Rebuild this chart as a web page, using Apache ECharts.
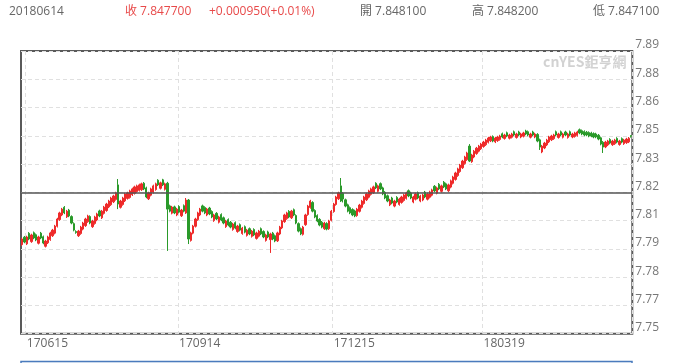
<!DOCTYPE html>
<html><head><meta charset="utf-8">
<script src="https://cdn.jsdelivr.net/npm/echarts@6/dist/echarts.min.js"></script>
<style>html,body{margin:0;padding:0;background:#fff}#c{width:680px;height:363px}</style>
</head><body><div id="c"></div>
<script>
const dates = ['170613','170614','170615','170616','170619','170620','170621','170622','170623','170626','170627','170628','170629','170630',
'170703','170704','170705','170706','170707','170710','170711','170712','170713','170714','170717','170718','170719','170720','170721','170724','170725','170726','170727','170728','170731',
'170801','170802','170803','170804','170807','170808','170809','170810','170811','170814','170815','170816','170817','170818','170821','170822','170823','170824','170825','170828','170829','170830','170831',
'170901','170904','170905','170906','170907','170908','170911','170912','170913','170914','170915','170918','170919','170920','170921','170922','170925','170926','170927','170928','170929',
'171002','171003','171004','171005','171006','171009','171010','171011','171012','171013','171016','171017','171018','171019','171020','171023','171024','171025','171026','171027','171030','171031',
'171101','171102','171103','171106','171107','171108','171109','171110','171113','171114','171115','171116','171117','171120','171121','171122','171123','171124','171127','171128','171129','171130',
'171201','171204','171205','171206','171207','171208','171211','171212','171213','171214','171215','171218','171219','171220','171221','171222','171226','171227','171228','171229',
'180102','180103','180104','180105','180108','180109','180110','180111','180112','180115','180116','180117','180118','180119','180122','180123','180124','180125','180126','180129','180130','180131',
'180201','180202','180205','180206','180207','180208','180209','180212','180213','180214','180215','180216','180219','180220','180221','180222','180223','180226','180227','180228',
'180301','180302','180305','180306','180307','180308','180309','180312','180313','180314','180315','180316','180319','180320','180321','180322','180323','180326','180327','180328','180329','180330',
'180402','180403','180404','180405','180406','180409','180410','180411','180412','180413','180416','180417','180418','180419','180420','180423','180424','180425','180426','180427','180430',
'180501','180502','180503','180504','180507','180508','180509','180510','180511','180514','180515','180516','180517','180518','180521','180522','180523','180524','180525','180528','180529','180530','180531',
'180601','180604','180605','180606','180607','180608','180611','180612','180613','180614'];

const openV = [
7.7941,7.7978,7.7945,7.7997,7.7956,7.8000,7.7990,7.7948,7.7998,7.7980,
7.7933,7.7950,7.7966,7.7985,7.7998,7.8032,7.8065,7.8088,7.8126,7.8079,
7.8112,7.8080,7.8045,7.8006,7.7985,7.7996,7.8018,7.8035,7.8055,7.8080,
7.8030,7.8046,7.8063,7.8108,7.8074,7.8096,7.8110,7.8128,7.8139,7.8153,
7.8165,7.8237,7.8126,7.8140,7.8158,7.8170,7.8175,7.8188,7.8195,7.8204,
7.8210,7.8213,7.8245,7.8222,7.8168,7.8186,7.8200,7.8214,7.8260,7.8220,
7.8262,7.8215,7.8245,7.8133,7.8097,7.8128,7.8088,7.8130,7.8084,7.8134,
7.8098,7.8162,7.7962,7.7998,7.8032,7.8065,7.8088,7.8133,7.8125,7.8088,
7.8122,7.8105,7.8060,7.8096,7.8052,7.8090,7.8074,7.8030,7.8065,7.8052,
7.8016,7.8050,7.8006,7.8040,7.7996,7.8030,7.7987,7.8020,7.7982,7.8016,
7.7972,7.7983,7.8020,7.8006,7.7962,7.8004,7.7966,7.7998,7.7985,7.7960,
7.7994,7.8024,7.8055,7.8070,7.8106,7.8074,7.8114,7.8085,7.8045,7.8020,
7.7992,7.8040,7.8090,7.8125,7.8150,7.8110,7.8085,7.8066,7.8052,7.8020,
7.8046,7.8020,7.8062,7.8105,7.8140,7.8168,7.8232,7.8195,7.8163,7.8138,
7.8124,7.8115,7.8108,7.8085,7.8106,7.8126,7.8145,7.8163,7.8176,7.8190,
7.8198,7.8245,7.8205,7.8243,7.8222,7.8200,7.8183,7.8138,7.8172,7.8132,
7.8175,7.8140,7.8150,7.8160,7.8170,7.8208,7.8197,7.8152,7.8166,7.8198,
7.8157,7.8162,7.8201,7.8166,7.8176,7.8186,7.8230,7.8196,7.8240,7.8205,
7.8250,7.8242,7.8208,7.8226,7.8245,7.8264,7.8283,7.8303,7.8322,7.8343,
7.8362,7.8429,7.8352,7.8375,7.8392,7.8404,7.8416,7.8427,7.8436,7.8448,
7.8455,7.8476,7.8450,7.8456,7.8462,7.8490,7.8467,7.8495,7.8468,7.8473,
7.8500,7.8472,7.8499,7.8474,7.8478,7.8504,7.8500,7.8473,7.8499,7.8474,
7.8487,7.8460,7.8400,7.8420,7.8435,7.8450,7.8460,7.8466,7.8500,7.8472,
7.8500,7.8473,7.8499,7.8472,7.8500,7.8474,7.8477,7.8482,7.8510,7.8505,
7.8501,7.8498,7.8496,7.8494,7.8491,7.8489,7.8483,7.8470,7.8448,7.8425,
7.8435,7.8462,7.8436,7.8441,7.8467,7.8437,7.8466,7.8441,7.8446,7.8450,
7.8481];

const closeV = [
7.7969,7.7954,7.7979,7.7969,7.7989,7.7974,7.7964,7.7979,7.7974,7.7949,
7.7959,7.7979,7.7999,7.8013,7.8033,7.8068,7.8098,7.8117,7.8098,7.8107,
7.8083,7.8048,7.8013,7.8001,7.8008,7.8028,7.8048,7.8068,7.8083,7.8048,
7.8058,7.8078,7.8093,7.8083,7.8107,7.8127,7.8142,7.8157,7.8172,7.8182,
7.8197,7.8142,7.8157,7.8172,7.8192,7.8197,7.8207,7.8217,7.8227,7.8232,
7.8237,7.8242,7.8217,7.8177,7.8197,7.8217,7.8232,7.8242,7.8237,7.8247,
7.8237,7.8242,7.8117,7.8107,7.8127,7.8098,7.8117,7.8102,7.8112,7.8107,
7.8162,7.7969,7.7999,7.8033,7.8068,7.8098,7.8117,7.8107,7.8098,7.8117,
7.8093,7.8078,7.8088,7.8068,7.8078,7.8063,7.8048,7.8058,7.8038,7.8028,
7.8043,7.8023,7.8033,7.8013,7.8023,7.8003,7.8013,7.7994,7.8008,7.7989,
7.7999,7.8008,7.7994,7.7979,7.7989,7.7979,7.7994,7.7969,7.7959,7.7999,
7.8028,7.8058,7.8088,7.8098,7.8078,7.8107,7.8088,7.8048,7.8008,7.7994,
7.8028,7.8088,7.8132,7.8157,7.8107,7.8078,7.8058,7.8038,7.8028,7.8048,
7.8018,7.8058,7.8107,7.8142,7.8177,7.8197,7.8157,7.8167,7.8132,7.8107,
7.8098,7.8088,7.8083,7.8117,7.8137,7.8157,7.8177,7.8192,7.8207,7.8217,
7.8227,7.8222,7.8232,7.8217,7.8192,7.8172,7.8157,7.8162,7.8147,7.8157,
7.8152,7.8167,7.8177,7.8187,7.8197,7.8182,7.8172,7.8177,7.8192,7.8172,
7.8182,7.8187,7.8177,7.8192,7.8202,7.8212,7.8207,7.8222,7.8217,7.8232,
7.8227,7.8217,7.8237,7.8257,7.8276,7.8296,7.8316,7.8335,7.8355,7.8375,
7.8395,7.8355,7.8385,7.8404,7.8419,7.8429,7.8439,7.8449,7.8459,7.8469,
7.8474,7.8454,7.8469,7.8474,7.8479,7.8474,7.8484,7.8479,7.8484,7.8489,
7.8484,7.8489,7.8484,7.8489,7.8494,7.8489,7.8484,7.8489,7.8484,7.8489,
7.8454,7.8424,7.8429,7.8444,7.8459,7.8474,7.8479,7.8484,7.8484,7.8489,
7.8484,7.8489,7.8484,7.8489,7.8484,7.8489,7.8494,7.8499,7.8494,7.8489,
7.8484,7.8484,7.8479,7.8479,7.8474,7.8474,7.8464,7.8439,7.8424,7.8449,
7.8454,7.8444,7.8454,7.8459,7.8449,7.8454,7.8449,7.8459,7.8464,7.8468,
7.8477];

const lowV = [
7.7935,7.7948,7.7939,7.7963,7.7950,7.7968,7.7958,7.7942,7.7968,7.7943,
7.7927,7.7944,7.7960,7.7979,7.7992,7.8026,7.8059,7.8082,7.8092,7.8073,
7.8077,7.8042,7.8007,7.7995,7.7979,7.7990,7.8012,7.8029,7.8049,7.8042,
7.8024,7.8040,7.8057,7.8077,7.8068,7.8090,7.8104,7.8122,7.8133,7.8147,
7.8159,7.8117,7.8120,7.8134,7.8152,7.8164,7.8169,7.8182,7.8189,7.8198,
7.8204,7.8207,7.8211,7.8171,7.8162,7.8180,7.8194,7.8208,7.8231,7.8214,
7.8231,7.8209,7.7910,7.8101,7.8091,7.8092,7.8082,7.8096,7.8078,7.8101,
7.8093,7.7944,7.7956,7.7992,7.8026,7.8059,7.8082,7.8101,7.8092,7.8082,
7.8087,7.8072,7.8054,7.8062,7.8046,7.8057,7.8042,7.8024,7.8032,7.8022,
7.8010,7.8017,7.8000,7.8007,7.7990,7.7997,7.7981,7.7988,7.7976,7.7983,
7.7966,7.7977,7.7988,7.7973,7.7956,7.7973,7.7900,7.7963,7.7953,7.7954,
7.7988,7.8018,7.8049,7.8064,7.8072,7.8068,7.8082,7.8042,7.8002,7.7988,
7.7986,7.8034,7.8084,7.8119,7.8101,7.8072,7.8052,7.8032,7.8022,7.8014,
7.8012,7.8014,7.8056,7.8099,7.8134,7.8162,7.8152,7.8150,7.8126,7.8101,
7.8092,7.8082,7.8077,7.8079,7.8100,7.8120,7.8139,7.8157,7.8170,7.8184,
7.8192,7.8216,7.8199,7.8211,7.8186,7.8166,7.8151,7.8132,7.8141,7.8126,
7.8146,7.8134,7.8144,7.8154,7.8164,7.8176,7.8166,7.8146,7.8160,7.8166,
7.8151,7.8156,7.8171,7.8160,7.8170,7.8180,7.8201,7.8190,7.8211,7.8199,
7.8221,7.8211,7.8202,7.8220,7.8239,7.8258,7.8277,7.8297,7.8316,7.8337,
7.8356,7.8350,7.8346,7.8369,7.8386,7.8398,7.8410,7.8421,7.8430,7.8442,
7.8449,7.8448,7.8444,7.8450,7.8456,7.8468,7.8461,7.8473,7.8462,7.8467,
7.8478,7.8466,7.8478,7.8468,7.8472,7.8483,7.8478,7.8467,7.8478,7.8468,
7.8448,7.8410,7.8394,7.8414,7.8429,7.8444,7.8454,7.8460,7.8478,7.8466,
7.8478,7.8467,7.8478,7.8466,7.8478,7.8468,7.8471,7.8476,7.8488,7.8483,
7.8478,7.8478,7.8473,7.8473,7.8468,7.8468,7.8458,7.8433,7.8395,7.8419,
7.8429,7.8438,7.8430,7.8435,7.8443,7.8431,7.8443,7.8435,7.8440,7.8444,
7.8471];

const highV = [
7.7975,7.7984,7.7985,7.8003,7.7995,7.8006,7.7996,7.7985,7.8004,7.7986,
7.7965,7.7985,7.8005,7.8019,7.8039,7.8074,7.8104,7.8123,7.8132,7.8113,
7.8118,7.8086,7.8051,7.8012,7.8014,7.8034,7.8054,7.8074,7.8089,7.8086,
7.8064,7.8084,7.8099,7.8114,7.8113,7.8133,7.8148,7.8163,7.8178,7.8188,
7.8203,7.8266,7.8163,7.8178,7.8198,7.8203,7.8213,7.8223,7.8233,7.8238,
7.8243,7.8248,7.8251,7.8228,7.8203,7.8223,7.8238,7.8248,7.8265,7.8253,
7.8267,7.8248,7.8252,7.8139,7.8133,7.8134,7.8123,7.8136,7.8118,7.8140,
7.8172,7.8167,7.8005,7.8039,7.8074,7.8104,7.8123,7.8139,7.8131,7.8123,
7.8128,7.8111,7.8094,7.8102,7.8084,7.8096,7.8080,7.8064,7.8071,7.8058,
7.8049,7.8056,7.8039,7.8046,7.8029,7.8036,7.8019,7.8026,7.8014,7.8022,
7.8005,7.8014,7.8026,7.8012,7.7995,7.8010,7.8000,7.8004,7.7991,7.8005,
7.8034,7.8064,7.8094,7.8104,7.8112,7.8113,7.8120,7.8091,7.8051,7.8026,
7.8034,7.8094,7.8138,7.8163,7.8156,7.8116,7.8091,7.8072,7.8058,7.8054,
7.8052,7.8064,7.8113,7.8148,7.8183,7.8203,7.8271,7.8201,7.8169,7.8144,
7.8130,7.8121,7.8114,7.8123,7.8143,7.8163,7.8183,7.8198,7.8213,7.8223,
7.8233,7.8250,7.8238,7.8249,7.8228,7.8206,7.8189,7.8168,7.8178,7.8163,
7.8181,7.8173,7.8183,7.8193,7.8203,7.8214,7.8203,7.8183,7.8198,7.8204,
7.8188,7.8193,7.8207,7.8198,7.8208,7.8218,7.8236,7.8228,7.8246,7.8238,
7.8256,7.8248,7.8243,7.8263,7.8282,7.8302,7.8322,7.8341,7.8361,7.8381,
7.8401,7.8439,7.8391,7.8410,7.8425,7.8435,7.8445,7.8455,7.8465,7.8475,
7.8480,7.8482,7.8475,7.8480,7.8485,7.8496,7.8490,7.8501,7.8490,7.8495,
7.8506,7.8495,7.8505,7.8495,7.8500,7.8510,7.8506,7.8495,7.8505,7.8495,
7.8493,7.8466,7.8435,7.8450,7.8465,7.8480,7.8485,7.8490,7.8506,7.8495,
7.8506,7.8495,7.8505,7.8495,7.8506,7.8495,7.8500,7.8505,7.8516,7.8511,
7.8507,7.8504,7.8502,7.8500,7.8497,7.8495,7.8489,7.8476,7.8454,7.8455,
7.8460,7.8468,7.8460,7.8465,7.8473,7.8460,7.8472,7.8465,7.8470,7.8474,
7.8482];

const xLabels = ['170615','170914','171215','180319'];
const yLabels = ['7.75','7.77','7.78','7.79','7.81','7.82','7.83','7.85','7.86','7.88','7.89'];
const yMin = 7.75, yMax = 7.89;
const refLevel = 7.82;

const headDate = '20180614';
const headClose = '收 7.847700';
const headChange = '+0.000950(+0.01%)';
const headOpen = '開 7.848100';
const headHigh = '高 7.848200';
const headLow = '低 7.847100';

const FONT = "'Open Sans','Noto Sans CJK TC',sans-serif";
const chart = echarts.init(document.getElementById('c'), null, {renderer: 'canvas'});
const showLabel = (i, v) => xLabels.indexOf(v) >= 0;

chart.setOption({
  animation: false,
  backgroundColor: '#fff',
  grid: {left: 21, right: 47.7, top: 51, bottom: 29.3, show: true, borderColor: '#5a5a5a', borderWidth: 2, backgroundColor: 'transparent'},
  xAxis: {
    type: 'category', data: dates, boundaryGap: true,
    axisLine: {show: false}, axisTick: {show: false},
    axisLabel: {interval: showLabel, align: 'left', color: '#666', fontSize: 12, margin: 4, fontFamily: FONT},
    splitLine: {show: true, interval: showLabel, lineStyle: {color: '#e0e0e0', type: [4, 3], width: 1}}
  },
  yAxis: [
    {type: 'value', min: yMin, max: yMax, show: false, scale: true},
    {type: 'category', data: yLabels, boundaryGap: false, position: 'right',
     axisLine: {show: false}, axisTick: {show: false},
     axisLabel: {color: '#777', fontSize: 12, margin: 3, verticalAlign: 'bottom', fontFamily: FONT},
     splitLine: {show: true, lineStyle: {color: '#e0e0e0', type: [4, 3], width: 1}}}
  ],
  series: [{
    type: 'candlestick', yAxisIndex: 0,
    data: dates.map((d, i) => [openV[i], closeV[i], lowV[i], highV[i]]),
    barWidth: '78%',
    itemStyle: {color: '#ee2a2a', color0: '#2a9a2a', borderColor: '#ee2a2a', borderColor0: '#2a9a2a', borderWidth: 1},
    markLine: {silent: true, symbol: ['none', 'none'], label: {show: false},
      lineStyle: {color: '#555', width: 1.5, type: 'solid'},
      data: [{yAxis: refLevel}]}
  }],
  graphic: [
    {type: 'text', x: 9, y: 12, style: {text: headDate, fill: '#666', fontSize: 12, fontFamily: FONT, verticalAlign: 'middle'}},
    {type: 'text', x: 125, y: 12, style: {text: headClose, fill: '#e84a4a', fontSize: 12, fontFamily: FONT, verticalAlign: 'middle'}},
    {type: 'text', x: 209, y: 12, style: {text: headChange, fill: '#e84a4a', fontSize: 12, fontFamily: FONT, verticalAlign: 'middle'}},
    {type: 'text', x: 360, y: 12, style: {text: headOpen, fill: '#666', fontSize: 12, fontFamily: FONT, verticalAlign: 'middle'}},
    {type: 'text', x: 472, y: 12, style: {text: headHigh, fill: '#666', fontSize: 12, fontFamily: FONT, verticalAlign: 'middle'}},
    {type: 'text', x: 593, y: 12, style: {text: headLow, fill: '#666', fontSize: 12, fontFamily: FONT, verticalAlign: 'middle'}},
    {type: 'text', x: 543, y: 62, style: {text: 'cnYES鉅亨網', fill: '#d2d2d2', fontSize: 14, fontWeight: 'bold', fontFamily: "'Noto Sans CJK TC',sans-serif", verticalAlign: 'middle'}},
    {type: 'rect', shape: {x: 21, y: 361.5, width: 611, height: 3}, style: {fill: '#f4f7fb', stroke: '#4a7bbd', lineWidth: 1.5}}
  ]
});
</script></body></html>
